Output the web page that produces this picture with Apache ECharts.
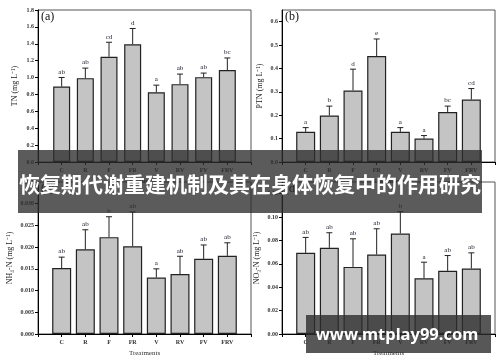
<!DOCTYPE html>
<html><head><meta charset="utf-8">
<script src="https://cdn.jsdelivr.net/npm/echarts@6/dist/echarts.min.js"></script>
<style>html,body{margin:0;padding:0;background:#fff}#c{width:500px;height:362px}</style>
</head><body><div id="c"></div>
<script>
// ---- data ----
const treatments = ['C','R','F','FR','V','RV','FV','FRV'];

const tnMean = [0.894, 0.993, 1.247, 1.394, 0.826, 0.922, 1.005, 1.089];
const tnErr  = [0.107, 0.119, 0.171, 0.187, 0.084, 0.119, 0.048, 0.143];
const tnLetters = ['ab','ab','cd','d','a','ab','ab','bc'];

const ptnMean = [0.129, 0.199, 0.306, 0.453, 0.129, 0.100, 0.214, 0.267];
const ptnErr  = [0.018, 0.040, 0.091, 0.073, 0.018, 0.013, 0.025, 0.047];
const ptnLetters = ['a','b','d','e','a','a','bc','cd'];

const nh4Mean = [0.0152, 0.0195, 0.0223, 0.0202, 0.0130, 0.0138, 0.0173, 0.0180];
const nh4Err  = [0.0025, 0.0045, 0.0047, 0.0079, 0.0020, 0.0041, 0.0032, 0.0030];
const nh4Letters = ['ab','ab','b','ab','a','ab','ab','ab'];

const no3Mean = [0.0694, 0.0737, 0.0574, 0.0680, 0.0860, 0.0477, 0.0540, 0.0560];
const no3Err  = [0.0132, 0.0129, 0.0240, 0.0220, 0.0186, 0.0137, 0.0131, 0.0134];
const no3Letters = ['ab','ab','ab','ab','b','a','ab','ab'];

const yTitles = ['TN (mg L⁻¹)', 'PTN (mg L⁻¹)', 'NH₄-N (mg L⁻¹)', 'NO₃-N (mg L⁻¹)'];
const panelTags = ['(a)', '(b)', '(c)', '(d)'];
const yMax = [1.8, 0.65, 0.035, 0.13];
const yInterval = [0.2, 0.1, 0.005, 0.02];
const yDecimals = [1, 1, 3, 2];
const xTitle = 'Treatments';
const bannerText = '恢复期代谢重建机制及其在身体恢复中的作用研究';
const watermarkText = 'www.mtplay99.com';

// ---- layout ----
const means = [tnMean, ptnMean, nh4Mean, no3Mean];
const errs = [tnErr, ptnErr, nh4Err, no3Err];
const letters = [tnLetters, ptnLetters, nh4Letters, no3Letters];
const grids = [
  {left:38, top:10, width:213, height:152},
  {left:282, top:10, width:213, height:152},
  {left:38, top:182, width:213, height:152},
  {left:282, top:182, width:213, height:152}
];
const nameGaps = [19, 18, 24, 21];
const barWidths = [17, 19, 19, 19];
const serif = 'Liberation Serif';

const xCats = [''].concat(treatments, ['']);

const option = {
  animation: false,
  backgroundColor: '#fff',
  grid: grids.map(g => Object.assign({show:true, borderColor:'#555', borderWidth:1, containLabel:false}, g)),
  xAxis: grids.map((g,i) => ({
    type:'category', gridIndex:i, data:xCats, boundaryGap:false,
    axisLine:{lineStyle:{color:'#000', width:1}},
    axisTick:{length:3, lineStyle:{color:'#000'}, interval:0},
    axisLabel:{fontSize:6, fontFamily:serif, fontWeight:'bold', color:'#333', margin:5, interval:0},
    name: xTitle, nameLocation:'middle', nameGap:16,
    nameTextStyle:{fontSize:7, fontFamily:serif, color:'#333'}
  })),
  yAxis: grids.map((g,i) => ({
    type:'value', gridIndex:i, min:0, max:yMax[i], interval:yInterval[i],
    axisLine:{show:true, lineStyle:{color:'#000', width:1}},
    axisTick:{show:true, length:3, lineStyle:{color:'#000'}},
    splitLine:{show:false},
    axisLabel:{fontSize:6, fontFamily:serif, fontWeight:'bold', color:'#333', margin:4,
      showMaxLabel: (Math.abs(yMax[i]/yInterval[i] - Math.round(yMax[i]/yInterval[i])) < 1e-6),
      formatter: v => Number(v).toFixed(yDecimals[i])},
    name: yTitles[i], nameLocation:'middle', nameGap:nameGaps[i], nameRotate:90,
    nameTextStyle:{fontSize:8, fontFamily:serif, color:'#222'}
  })),
  series: [],
  graphic: []
};

means.forEach((m, i) => {
  option.series.push({
    type:'bar', xAxisIndex:i, yAxisIndex:i, barWidth:barWidths[i],
    data: m.map((v,k) => [k+1, v]),
    itemStyle:{color:'#c4c4c4', borderColor:'#222', borderWidth:1.2},
    z:2
  });
  const lt = letters[i];
  option.series.push({
    type:'custom', xAxisIndex:i, yAxisIndex:i, z:3,
    data: m.map((v,k) => [k+1, v + errs[i][k], v]),
    renderItem: (params, api) => {
      const x = api.value(0), top = api.value(1), base = api.value(2);
      const p1 = api.coord([x, base]);
      const p2 = api.coord([x, top]);
      const cap = 3;
      return {type:'group', children:[
        {type:'line', shape:{x1:p1[0], y1:p1[1], x2:p2[0], y2:p2[1]}, style:{stroke:'#222', lineWidth:1}},
        {type:'line', shape:{x1:p2[0]-cap, y1:p2[1], x2:p2[0]+cap, y2:p2[1]}, style:{stroke:'#222', lineWidth:1}},
        {type:'text', x:p2[0], y:p2[1]-2, style:{text: lt[params.dataIndex], fill:'#1a1a2e',
          font:'7px "Liberation Serif"', textAlign:'center', textVerticalAlign:'bottom'}}
      ]};
    }
  });
});

grids.forEach((g,i) => {
  option.graphic.push({type:'text', left:g.left+3, top:g.top+1, z:5,
    style:{text:panelTags[i], font:'12px "Liberation Serif"', fill:'#111'}});
});

option.graphic.push(
  {type:'rect', left:18, top:150, shape:{width:464, height:63}, z:100,
    style:{fill:'rgba(45,45,45,0.78)'}},
  {type:'text', x:250, y:184, z:101,
    style:{text:bannerText, fill:'#fff', font:'bold 21px "Noto Sans CJK SC"', textAlign:'center', textVerticalAlign:'middle'}},
  {type:'rect', left:306, top:315, shape:{width:185, height:38}, z:100,
    style:{fill:'rgba(45,45,45,0.8)'}},
  {type:'text', x:397, y:335, z:101,
    style:{text:watermarkText, fill:'#fff', font:'bold 16.5px "Noto Sans"', textAlign:'center', textVerticalAlign:'middle'}}
);

const chart = echarts.init(document.getElementById('c'), null, {renderer:'canvas'});
chart.setOption(option);
</script>
</body></html>
